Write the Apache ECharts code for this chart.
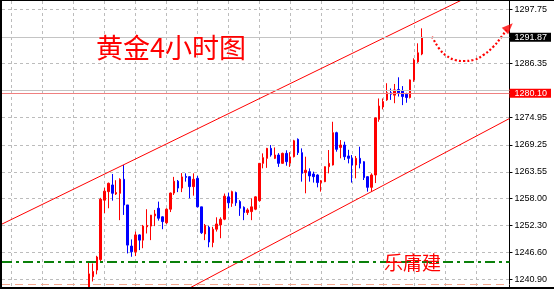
<!DOCTYPE html>
<html><head><meta charset="utf-8">
<script src="https://cdn.jsdelivr.net/npm/echarts@6/dist/echarts.min.js"></script>
<style>
html,body{margin:0;padding:0;background:#fff;}
#wrap{position:relative;width:554px;height:289px;overflow:hidden;background:#fff;}
#chart{position:absolute;left:0;top:0;width:554px;height:289px;}
#frame{position:absolute;left:0;top:0;width:552px;height:286px;border-left:2px solid #000;border-top:1px solid #000;border-bottom:2px solid #000;pointer-events:none;}
</style></head><body>
<div id="wrap"><div id="chart"></div><div id="frame"></div></div>
<script>
// 4-hour gold candles (bar index 0..86), prices in USD
const opens = [1237.0,1241.5,1242.9,1245.1,1257.6,1259.4,1260.8,1258.9,1259.05,1262.0,
1256.6,1247.95,1246.75,1250.3,1249.2,1252.0,1252.15,1254.3,1255.9,1254.1,
1252.85,1255.7,1259.1,1261.6,1260.15,1262.6,1262.55,1260.45,1262.2,1256.2,
1250.5,1251.9,1248.7,1251.5,1252.4,1253.6,1258.3,1256.95,1259.2,1257.3,
1256.1,1255.0,1255.2,1255.7,1257.5,1265.35,1266.4,1268.5,1266.4,1267.1,
1265.35,1267.45,1265.4,1266.75,1270.4,1267.6,1263.4,1263.6,1263.1,1262.9,
1261.3,1261.5,1264.65,1265.0,1271.8,1268.7,1269.2,1266.9,1266.4,1265.0,
1266.4,1265.7,1262.55,1260.3,1262.9,1274.6,1277.2,1278.7,1280.2,1279.7,
1280.9,1280.6,1279.9,1279.2,1282.9,1286.7,1288.35];
const closes = [1242.1,1242.6,1245.65,1257.8,1259.5,1261.15,1259.05,1259.2,1262.0,1256.6,
1248.15,1246.75,1250.3,1249.2,1252.15,1252.3,1254.45,1254.7,1253.8,1253.1,
1255.7,1259.1,1261.6,1260.15,1262.5,1262.4,1260.45,1262.0,1256.2,1250.75,
1252.3,1248.8,1251.5,1252.6,1253.6,1258.45,1257.05,1259.4,1257.05,1255.9,
1255.0,1255.55,1256.2,1258.3,1265.35,1266.55,1268.5,1267.1,1267.1,1265.35,
1267.45,1265.7,1266.7,1270.1,1267.6,1263.25,1263.9,1262.7,1262.55,1261.3,
1261.7,1264.65,1265.35,1271.8,1268.3,1269.2,1266.75,1266.4,1265.0,1266.4,
1265.35,1262.35,1260.3,1262.9,1274.9,1277.4,1278.35,1280.2,1279.9,1280.8,
1280.2,1279.4,1279.2,1282.9,1287.1,1288.6,1291.87];
const lows = [1236.2,1240.5,1242.0,1244.6,1254.9,1255.9,1257.5,1258.7,1253.4,1254.5,
1246.4,1245.7,1245.85,1247.1,1247.5,1250.6,1249.2,1252.15,1253.3,1251.5,
1252.6,1255.1,1258.7,1259.3,1259.3,1261.5,1258.0,1258.55,1256.1,1250.5,
1249.2,1247.7,1247.7,1251.0,1249.6,1253.4,1255.9,1256.2,1256.4,1254.3,
1253.4,1254.5,1253.4,1255.5,1257.3,1264.3,1264.4,1266.75,1266.25,1264.6,
1265.3,1264.85,1264.6,1266.6,1267.1,1261.5,1259.05,1261.5,1261.3,1260.3,
1259.4,1261.4,1263.25,1264.9,1267.8,1266.4,1266.05,1265.35,1261.3,1262.2,
1264.3,1261.85,1259.4,1259.4,1261.2,1274.1,1276.7,1278.5,1278.7,1278.0,
1279.4,1277.6,1278.1,1279.0,1282.5,1286.5,1288.1];
const highs = [1244.4,1244.3,1245.9,1258.1,1260.2,1261.3,1263.1,1261.8,1262.2,1265.0,
1256.6,1249.35,1251.0,1250.4,1252.4,1255.7,1254.5,1255.55,1257.3,1254.2,
1255.9,1259.2,1262.5,1261.85,1263.3,1263.25,1262.6,1263.25,1262.7,1256.2,
1252.6,1252.2,1252.0,1254.0,1254.0,1259.0,1259.2,1259.6,1259.4,1257.6,
1256.3,1255.9,1258.0,1258.4,1265.4,1267.45,1268.6,1269.2,1268.7,1267.5,
1267.6,1268.1,1267.7,1270.3,1270.6,1268.5,1266.75,1264.3,1263.6,1263.05,
1261.85,1264.7,1268.15,1274.1,1272.0,1270.25,1269.9,1268.2,1267.1,1266.9,
1268.85,1265.8,1262.6,1263.25,1275.0,1279.0,1279.0,1282.2,1281.1,1282.05,
1283.45,1281.6,1280.2,1283.0,1287.45,1290.6,1293.75];

// price scale tick labels
const yGridValues = [1297.75,1286.35,1274.95,1269.25,1263.55,1258.00,1252.30,1246.60,1240.90];
const yLabelValues = [1297.75,1291.87,1286.35,1280.10,1274.95,1269.25,1263.55,1258.00,1252.30,1246.60,1240.90];
const bidPrice = 1291.87;
const redLevel = 1280.10;
const greyLevel = 1280.65;
const greenLevel = 1244.65;
const salmonLevel = 1239.9;
// vertical grid every 8 bars
const xGridBars = [-20,-12,-4,4,12,20,28,36,44,52,60,68,76,84,92,100];
// channel lines [bar, price]
const upperChannel = [[-22.5,1252.58],[100,1301.17]];
const lowerChannel = [[20,1236.54],[108.66,1274.78]];
// forecast dotted curve [bar, price]
const forecastCurve = [[88.64,1291.99],[90.77,1289.19],[92.48,1287.93],[94.62,1287.09],[96.77,1286.88],[99.34,1287.09],[101.91,1288.14],[104.48,1289.88],[106.61,1291.99],[107.89,1293.4]];
const forecastArrow = [[108.5,1294.0]];

const candleData = opens.map((o,i)=>[i,o,closes[i],lows[i],highs[i]]);

const chart = echarts.init(document.getElementById('chart'), null, {renderer:'canvas'});
const labelFont = 'Liberation Sans, Arial, sans-serif';
chart.setOption({
  animation:false,
  backgroundColor:'#fff',
  title:[
    {text:'黄金4小时图', left:96, top:34, padding:0,
     textStyle:{color:'#ff0000', fontSize:27, fontWeight:'normal', fontFamily:'"Noto Sans CJK SC"'}},
    {text:'乐庸建', left:384, top:253, padding:0,
     textStyle:{color:'#ff0000', fontSize:19, fontWeight:'normal', fontFamily:'"Noto Sans CJK SC"'}}
  ],
  grid:{left:2, right:41, top:1, bottom:2, containLabel:false},
  xAxis:{type:'value', min:-22.5, max:108.66,
    axisLine:{show:false, onZero:false}, axisLabel:{show:false},
    axisTick:{show:false, customValues:xGridBars},
    splitLine:{show:true, lineStyle:{color:'#bcbcbc', width:1, type:[3,3]}}},
  yAxis:{type:'value', position:'right', min:1239.34, max:1299.5, scale:true,
    axisLine:{show:true, onZero:false, lineStyle:{color:'#000', width:1}},
    axisTick:{show:true, length:3, customValues:yGridValues, lineStyle:{color:'#000'}},
    axisLabel:{customValues:yLabelValues, margin:0,
      formatter:function(v){
        const s = Number(v).toFixed(2);
        if (s === bidPrice.toFixed(2)) return '{k|'+s+'}';
        if (s === redLevel.toFixed(2)) return '{r|'+s+'}';
        return '{n|'+s+'}';
      },
      rich:{
        n:{color:'#000', fontSize:9, fontFamily:labelFont, padding:[0,0,0,5]},
        k:{color:'#fff', backgroundColor:'#000', fontSize:9, fontFamily:labelFont, lineHeight:10, padding:[0,4,0,5]},
        r:{color:'#fff', backgroundColor:'#ff0000', fontSize:9, fontFamily:labelFont, lineHeight:10, padding:[0,4,0,5]}
      }},
    splitLine:{show:true, lineStyle:{color:'#bcbcbc', width:1, type:[3,3]}}},
  series:[
    {type:'candlestick', data:candleData, barWidth:2, silent:true,
     itemStyle:{color:'#ff0000', color0:'#0000ff', borderColor:'#ff0000', borderColor0:'#0000ff', borderWidth:1},
     markLine:{symbol:'none', silent:true, label:{show:false}, emphasis:{disabled:true},
       data:[
         {yAxis:bidPrice, lineStyle:{color:'#c4c4c4', type:'solid', width:1}},
         {yAxis:greyLevel, lineStyle:{color:'#c4c4c4', type:'solid', width:1}},
         {yAxis:redLevel, lineStyle:{color:'#f08080', type:'solid', width:1}},
         {yAxis:greenLevel, lineStyle:{color:'#0a800a', type:[10,4,3,4], width:2}},
         {yAxis:salmonLevel, lineStyle:{color:'#f5a88e', type:[8,5], width:1}}
       ]}},
    {type:'line', data:upperChannel, symbol:'none', silent:true, lineStyle:{color:'#ff0000', width:1}},
    {type:'line', data:lowerChannel, symbol:'none', silent:true, lineStyle:{color:'#ff0000', width:1}},
    {type:'line', data:forecastCurve, smooth:true, symbol:'none', silent:true, clip:false,
     lineStyle:{color:'#ff0000', width:2.2, type:[2,2.2]}},
    {type:'scatter', data:forecastArrow, symbol:'triangle', symbolSize:[9,11], symbolRotate:-45, clip:false, silent:true,
     itemStyle:{color:'#ff0000'}}
  ]
});
</script>
</body></html>
